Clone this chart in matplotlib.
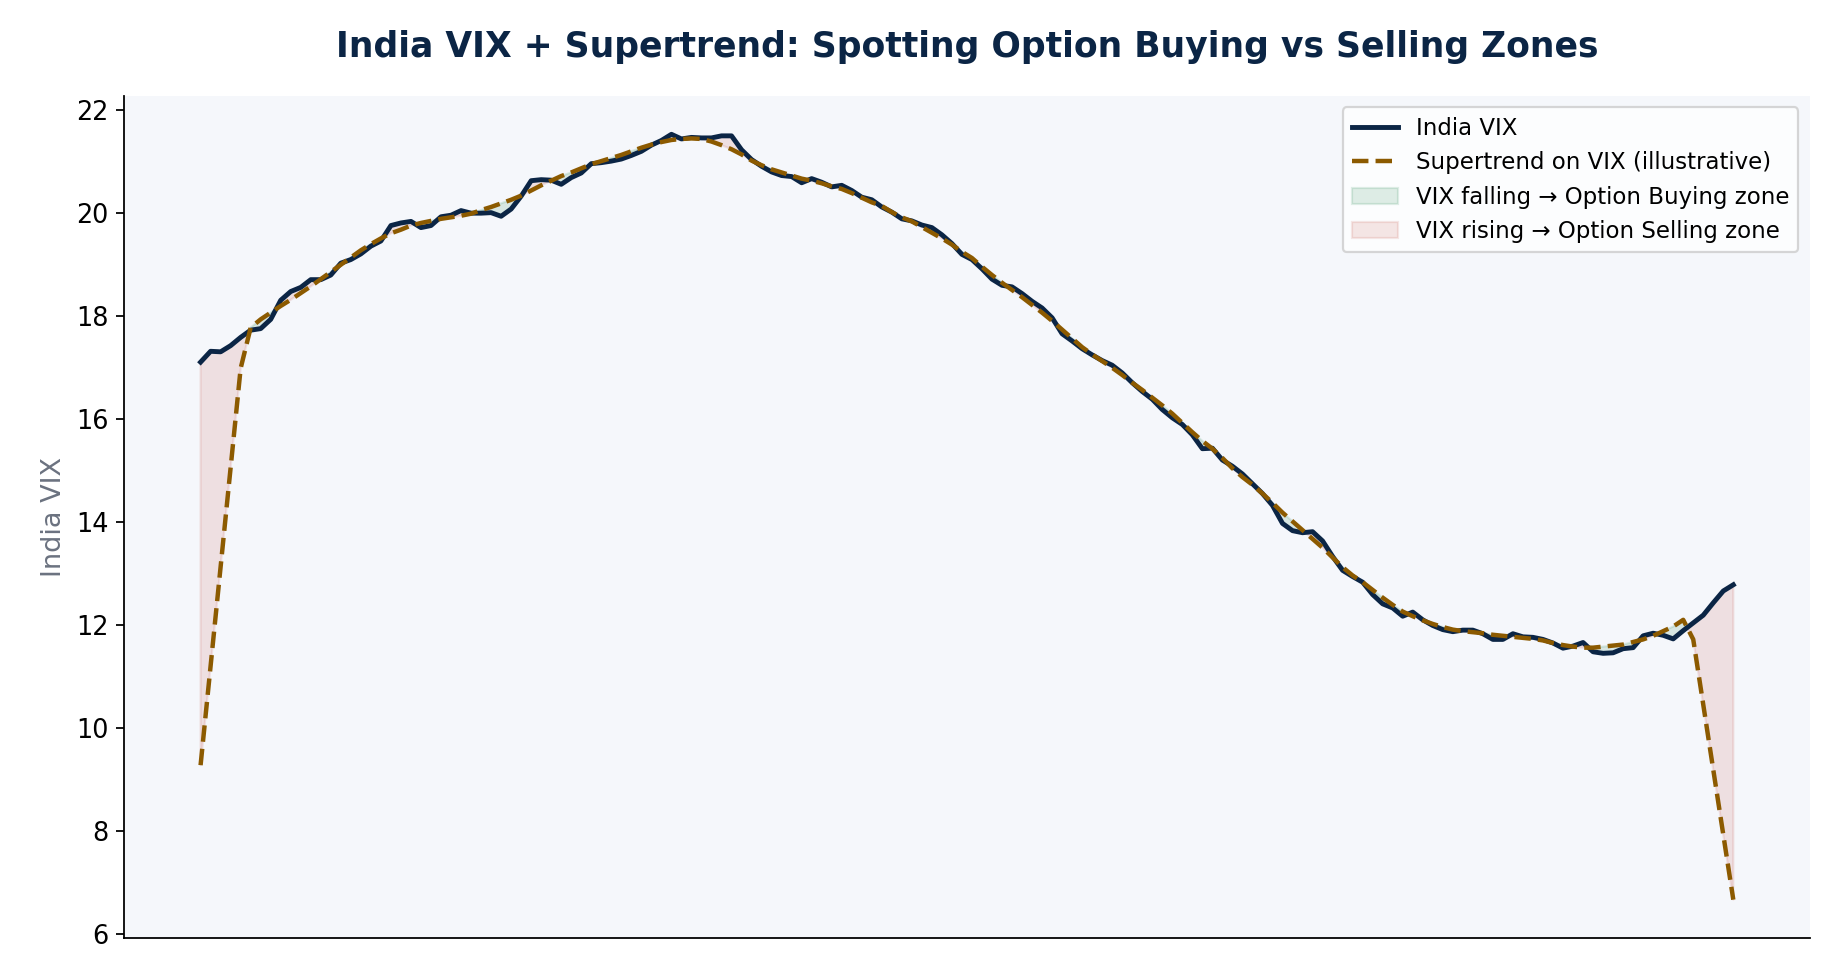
import numpy as np
import matplotlib.pyplot as plt

# ---------- data ----------
vix = [
    17.10, 17.31, 17.30, 17.42, 17.58, 17.72, 17.75, 17.93, 18.30, 18.47,
    18.55, 18.70, 18.70, 18.79, 19.02, 19.09, 19.20, 19.35, 19.45, 19.75,
    19.80, 19.83, 19.71, 19.75, 19.92, 19.95, 20.04, 19.99, 19.99, 20.00,
    19.93, 20.07, 20.32, 20.62, 20.64, 20.63, 20.55, 20.68, 20.77, 20.95,
    20.97, 21.00, 21.04, 21.11, 21.19, 21.31, 21.40, 21.52, 21.43, 21.46,
    21.45, 21.45, 21.49, 21.49, 21.22, 21.03, 20.90, 20.79, 20.72, 20.70,
    20.58, 20.66, 20.59, 20.50, 20.53, 20.43, 20.30, 20.25, 20.11, 20.01,
    19.88, 19.84, 19.76, 19.71, 19.57, 19.40, 19.19, 19.09, 18.91, 18.71,
    18.59, 18.56, 18.43, 18.28, 18.15, 17.96, 17.65, 17.51, 17.36, 17.24,
    17.13, 17.04, 16.89, 16.70, 16.53, 16.38, 16.18, 16.02, 15.89, 15.69,
    15.42, 15.43, 15.20, 15.08, 14.93, 14.74, 14.55, 14.32, 13.97, 13.83,
    13.79, 13.81, 13.63, 13.33, 13.06, 12.94, 12.83, 12.59, 12.41, 12.33,
    12.17, 12.25, 12.10, 11.99, 11.91, 11.87, 11.90, 11.90, 11.83, 11.72,
    11.72, 11.83, 11.77, 11.76, 11.72, 11.65, 11.55, 11.59, 11.66, 11.48,
    11.45, 11.46, 11.54, 11.56, 11.79, 11.84, 11.80, 11.73, 11.89, 12.04,
    12.19, 12.43, 12.66, 12.78,
]

supertrend = [
    9.28, 11.20, 13.14, 15.06, 16.98, 17.77, 17.93, 18.06, 18.19, 18.31,
    18.44, 18.57, 18.71, 18.85, 18.99, 19.13, 19.27, 19.39, 19.50, 19.60,
    19.67, 19.75, 19.80, 19.84, 19.88, 19.91, 19.94, 19.98, 20.05, 20.11,
    20.18, 20.25, 20.33, 20.43, 20.53, 20.62, 20.71, 20.78, 20.86, 20.94,
    21.00, 21.06, 21.12, 21.19, 21.26, 21.32, 21.37, 21.41, 21.43, 21.44,
    21.43, 21.38, 21.31, 21.23, 21.13, 21.01, 20.92, 20.84, 20.78, 20.72,
    20.66, 20.62, 20.57, 20.51, 20.46, 20.38, 20.29, 20.20, 20.13, 20.01,
    19.91, 19.83, 19.72, 19.61, 19.50, 19.38, 19.24, 19.12, 18.95, 18.79,
    18.64, 18.50, 18.36, 18.21, 18.06, 17.90, 17.73, 17.56, 17.39, 17.25,
    17.12, 16.99, 16.85, 16.70, 16.56, 16.41, 16.26, 16.10, 15.92, 15.74,
    15.57, 15.42, 15.24, 15.04, 14.87, 14.72, 14.55, 14.37, 14.18, 14.01,
    13.84, 13.67, 13.50, 13.31, 13.12, 12.96, 12.83, 12.68, 12.53, 12.39,
    12.26, 12.17, 12.09, 12.02, 11.96, 11.91, 11.88, 11.86, 11.84, 11.81,
    11.79, 11.77, 11.75, 11.73, 11.70, 11.65, 11.61, 11.58, 11.56, 11.56,
    11.58, 11.60, 11.62, 11.67, 11.72, 11.79, 11.88, 11.97, 12.10, 11.72,
    10.45, 9.19, 7.93, 6.67,
]

# ---------- style ----------
NAVY = "#0b2545"
BROWN = "#8c5a00"
GREEN = "#2e8b57"
RED = "#c0392b"
AX_BG = "#f5f7fb"

plt.rcParams.update({
    "font.family": "DejaVu Sans",
    "xtick.labelsize": 11.5,
    "ytick.labelsize": 11.5,
})

days = np.arange(len(vix))
vix_arr = np.array(vix)
st_arr = np.array(supertrend)

fig = plt.figure(figsize=(11.49375, 6.125), dpi=160)
ax = fig.add_axes([0.0674, 0.0429, 0.9168, 0.8591])
ax.set_facecolor(AX_BG)

ax.plot(days, vix_arr, color=NAVY, linewidth=2.2, label="India VIX")
ax.plot(days, st_arr, color=BROWN, linewidth=2, linestyle="--",
        label="Supertrend on VIX (illustrative)")

# green where VIX sits under the trend, red where it sits above
ax.fill_between(days, vix_arr, st_arr, where=vix_arr < st_arr, interpolate=True,
                color=GREEN, alpha=0.15, label="VIX falling → Option Buying zone")
ax.fill_between(days, vix_arr, st_arr, where=vix_arr >= st_arr, interpolate=True,
                color=RED, alpha=0.12, label="VIX rising → Option Selling zone")

ax.set_title("India VIX + Supertrend: Spotting Option Buying vs Selling Zones",
             fontsize=15.6, fontweight="bold", color=NAVY, pad=17.5)
ax.set_ylabel("India VIX", fontsize=12.2, color="#6b7280")
ax.set_xticks([])
ax.spines["top"].set_visible(False)
ax.spines["right"].set_visible(False)
ax.legend(loc="upper right", fontsize=10.3)

fig.savefig("out.png", dpi=160)
